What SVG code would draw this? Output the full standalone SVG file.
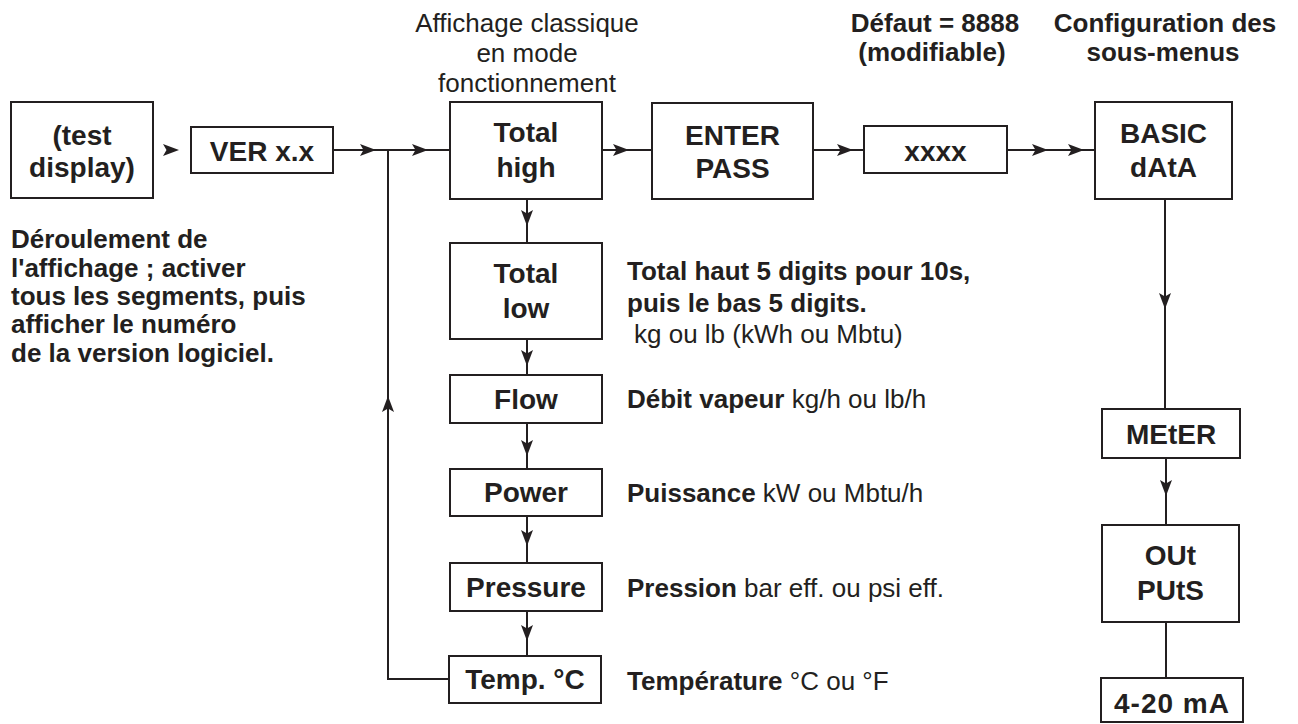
<svg xmlns="http://www.w3.org/2000/svg" xmlns:xlink="http://www.w3.org/1999/xlink" width="1298" height="724" viewBox="0 0 1298 724">
<style>
  .box { fill: #ffffff; stroke: #231f20; stroke-width: 2; }
  .bt { font-family: "Liberation Sans", Arial, sans-serif; font-weight: bold; font-size: 28px; fill: #231f20; text-anchor: middle; }
  .lb { font-family: "Liberation Sans", Arial, sans-serif; font-size: 26px; fill: #231f20; }
  .b { font-weight: bold; }
  .ln { fill: none; stroke: #231f20; stroke-width: 2; }
  .ah { fill: #231f20; }
</style>
<defs>
  <path id="ah" d="M0,0 L-16,-6 L-12.5,0 L-16,6 Z"/>
</defs>
<rect width="1298" height="724" fill="#ffffff"/>

<g id="connectors">
  <path class="ln" d="M333,150 H450"/>
  <path class="ln" d="M388,150 V679 H449"/>
  <path class="ln" d="M602,150 H652"/>
  <path class="ln" d="M813,150 H864"/>
  <path class="ln" d="M1007,150 H1095"/>
  <path class="ln" d="M527,199 V243"/>
  <path class="ln" d="M527,339 V375"/>
  <path class="ln" d="M527,423 V469"/>
  <path class="ln" d="M527,516 V563"/>
  <path class="ln" d="M527,611 V656"/>
  <path class="ln" d="M1165,199 V409"/>
  <path class="ln" d="M1166,458 V525"/>
  <path class="ln" d="M1166,622 V678"/>
  <g class="ah">
    <use xlink:href="#ah" transform="translate(179,150)"/>
    <use xlink:href="#ah" transform="translate(376,150)"/>
    <use xlink:href="#ah" transform="translate(428,150)"/>
    <use xlink:href="#ah" transform="translate(629,150)"/>
    <use xlink:href="#ah" transform="translate(853,150)"/>
    <use xlink:href="#ah" transform="translate(1048,150)"/>
    <use xlink:href="#ah" transform="translate(1084,150)"/>
    <use xlink:href="#ah" transform="translate(527,226) rotate(90)"/>
    <use xlink:href="#ah" transform="translate(527,366) rotate(90)"/>
    <use xlink:href="#ah" transform="translate(527,456) rotate(90)"/>
    <use xlink:href="#ah" transform="translate(527,546) rotate(90)"/>
    <use xlink:href="#ah" transform="translate(527,641) rotate(90)"/>
    <use xlink:href="#ah" transform="translate(1165,309) rotate(90)"/>
    <use xlink:href="#ah" transform="translate(1166,496) rotate(90)"/>
    <use xlink:href="#ah" transform="translate(388,396) rotate(-90)"/>
  </g>
</g>

<g id="node-test">
  <rect class="box" x="11" y="102" width="142" height="96"/>
  <text class="bt" x="82" y="145">(test</text>
  <text class="bt" x="82" y="177">display)</text>
</g>
<g id="node-ver">
  <rect class="box" x="191" y="127" width="142" height="46"/>
  <text class="bt" x="262" y="161">VER x.x</text>
</g>
<g id="node-total-high">
  <rect class="box" x="450" y="102" width="152" height="97"/>
  <text class="bt" x="526" y="142">Total</text>
  <text class="bt" x="526" y="177">high</text>
</g>
<g id="node-enter-pass">
  <rect class="box" x="652" y="103" width="161" height="96"/>
  <text class="bt" x="732.5" y="145">ENTER</text>
  <text class="bt" x="732.5" y="178">PASS</text>
</g>
<g id="node-xxxx">
  <rect class="box" x="864" y="126" width="143" height="47"/>
  <text class="bt" x="935.5" y="161">xxxx</text>
</g>
<g id="node-basic-data">
  <rect class="box" x="1095" y="102" width="137" height="97"/>
  <text class="bt" x="1163.5" y="143">BASIC</text>
  <text class="bt" x="1163.5" y="177">dAtA</text>
</g>
<g id="node-total-low">
  <rect class="box" x="450" y="243" width="152" height="96"/>
  <text class="bt" x="526" y="283">Total</text>
  <text class="bt" x="526" y="318">low</text>
</g>
<g id="node-flow">
  <rect class="box" x="450" y="375" width="152" height="48"/>
  <text class="bt" x="526" y="409">Flow</text>
</g>
<g id="node-power">
  <rect class="box" x="450" y="469" width="152" height="47"/>
  <text class="bt" x="526" y="502">Power</text>
</g>
<g id="node-pressure">
  <rect class="box" x="450" y="563" width="152" height="48"/>
  <text class="bt" x="526" y="597">Pressure</text>
</g>
<g id="node-temp">
  <rect class="box" x="449" y="656" width="152" height="47"/>
  <text class="bt" x="525" y="689">Temp. °C</text>
</g>
<g id="node-meter">
  <rect class="box" x="1102" y="409" width="138" height="49"/>
  <text class="bt" x="1171" y="444">MEtER</text>
</g>
<g id="node-outputs">
  <rect class="box" x="1102" y="525" width="137" height="97"/>
  <text class="bt" x="1170.5" y="565">OUt</text>
  <text class="bt" x="1170.5" y="600">PUtS</text>
</g>
<g id="node-4-20">
  <rect class="box" x="1101" y="678" width="142" height="44"/>
  <text class="bt" x="1172" y="713" letter-spacing="1">4-20 mA</text>
</g>

<g id="labels">
  <text class="lb" text-anchor="middle" x="527" y="32">Affichage classique</text>
  <text class="lb" text-anchor="middle" x="527" y="62">en mode</text>
  <text class="lb" text-anchor="middle" x="527" y="92">fonctionnement</text>
  <text class="lb b" text-anchor="middle" x="935" y="32">Défaut = 8888</text>
  <text class="lb b" text-anchor="middle" x="932" y="61">(modifiable)</text>
  <text class="lb b" text-anchor="middle" x="1165" y="32">Configuration des</text>
  <text class="lb b" text-anchor="middle" x="1163" y="61">sous-menus</text>
  <text class="lb b" x="11" y="248">Déroulement de</text>
  <text class="lb b" x="11" y="277">l'affichage ; activer</text>
  <text class="lb b" x="11" y="305">tous les segments, puis</text>
  <text class="lb b" x="11" y="333">afficher le numéro</text>
  <text class="lb b" x="11" y="362">de la version logiciel.</text>
  <text class="lb b" x="627" y="280">Total haut 5 digits pour 10s,</text>
  <text class="lb b" x="627" y="312">puis le bas 5 digits.</text>
  <text class="lb" x="634" y="343">kg ou lb (kWh ou Mbtu)</text>
  <text class="lb" x="627" y="408"><tspan class="b">Débit vapeur</tspan> kg/h ou lb/h</text>
  <text class="lb" x="627" y="502"><tspan class="b">Puissance</tspan> kW ou Mbtu/h</text>
  <text class="lb" x="627" y="597"><tspan class="b">Pression</tspan> bar eff. ou psi eff.</text>
  <text class="lb" x="627" y="690"><tspan class="b">Température</tspan> °C ou °F</text>
</g>
</svg>
